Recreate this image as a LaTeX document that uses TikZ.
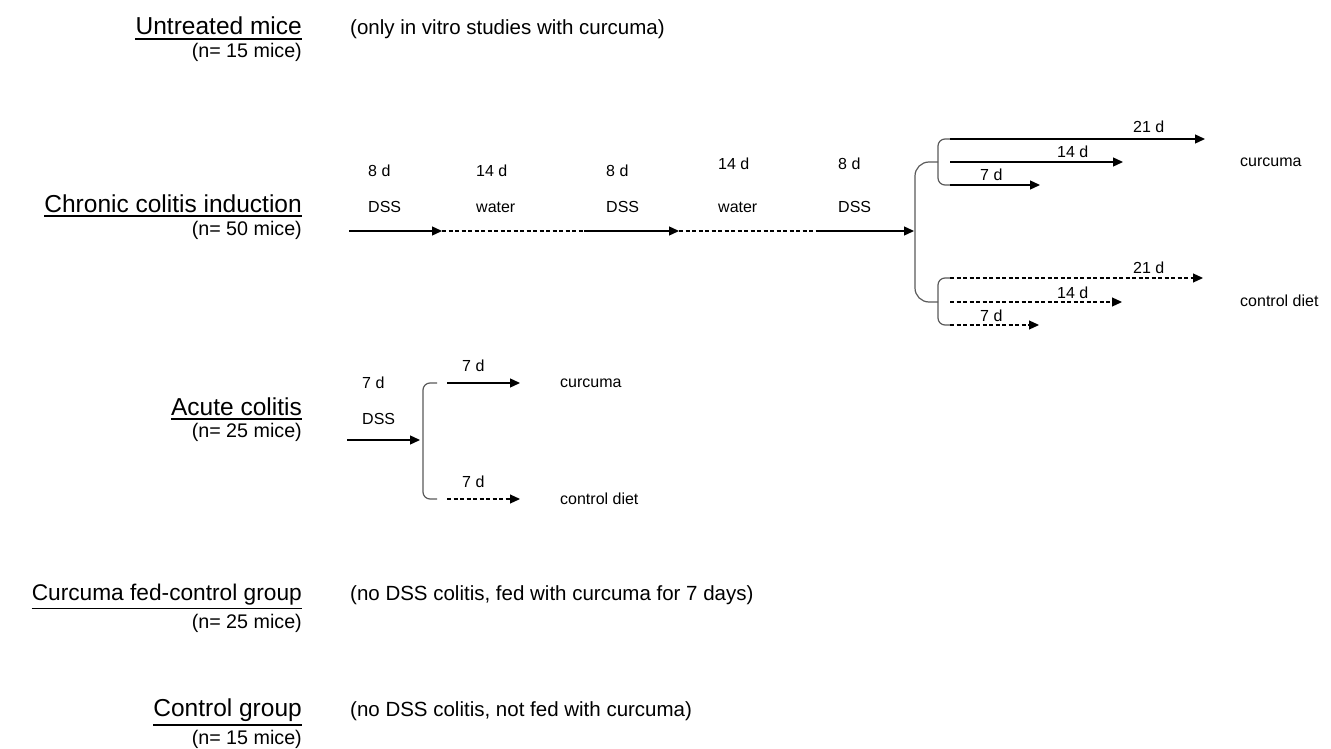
\documentclass[tikz,border=0pt]{standalone}
\usepackage{fontspec}
\setmainfont{Liberation Sans}
\usetikzlibrary{arrows.meta, positioning}

\begin{document}
\begin{tikzpicture}[
    x=1pt, y=-1pt,
    every node/.style={inner sep=0pt},
    title/.style={font=\fontsize{24.5}{28}\selectfont, anchor=base east},
    count/.style={font=\fontsize{19.7}{23}\selectfont, anchor=base east},
    note/.style={font=\fontsize{20.5}{24}\selectfont, anchor=base west},
    lbl/.style={font=\fontsize{16}{19}\selectfont, anchor=base west},
    uline/.style={line width=1.5pt},
    arrow/.style={-{Triangle[length=10pt, width=9pt]}, line width=1.3pt},
    dashline/.style={line width=1.1pt, dash pattern=on 4pt off 2.5pt},
    brace/.style={line width=1.2pt, draw=black!65, rounded corners=7pt}
]
\useasboundingbox (0,0) rectangle (1331,749);

% group titles
\node[title] (untreated) at (302,35) {Untreated mice};
\node[title] (chronic) at (302,212) {Chronic colitis induction};
\node[title] (acute) at (302,415) {Acute colitis};
\node[title, font=\fontsize{22.7}{26}\selectfont] (curfed) at (302,600) {Curcuma fed-control group};
\node[title] (ctlgrp) at (302,716) {Control group};

\foreach \g in {untreated, chronic, acute, curfed, ctlgrp}
  \draw[uline] ([yshift=-3.5pt]\g.south west) -- ([yshift=-3.5pt]\g.south east);

\node[count] (untreatedn) at (302,58) {(n= 15 mice)};
\node[count] (chronicn) at (302,235) {(n= 50 mice)};
\node[count] (acuten) at (302,437) {(n= 25 mice)};
\node[count] (curfedn) at (302,628) {(n= 25 mice)};
\node[count] (ctlgrpn) at (302,744) {(n= 15 mice)};

\node[note] (untreatednote) at (350,35) {(only in vitro studies with curcuma)};
\node[note] (curfednote) at (350,600) {(no DSS colitis, fed with curcuma for 7 days)};
\node[note] (ctlgrpnote) at (350,716) {(no DSS colitis, not fed with curcuma)};

% chronic induction
\coordinate (c0) at (349,231);
\coordinate (c1) at (442,231);
\coordinate (c2) at (584,231);
\coordinate (c3) at (679,231);
\coordinate (c4) at (820,231);
\coordinate (c5) at (914,231);
\draw[arrow] (c0) -- (c1);
\draw[dashline] (c1) -- (c2);
\draw[arrow] (c2) -- (c3);
\draw[dashline] (c3) -- (c4);
\draw[arrow] (c4) -- (c5);

\node[lbl] (t1) at (368,176) {8 d};
\node[lbl] (t2) at (476,176) {14 d};
\node[lbl] (t3) at (606,176) {8 d};
\node[lbl] (t4) at (718,170) {14 d};
\node[lbl] (t5) at (838,170) {8 d};
\node[lbl] (p1) at (368,212) {DSS};
\node[lbl] (p2) at (476,212) {water};
\node[lbl] (p3) at (606,212) {DSS};
\node[lbl] (p4) at (718,212) {water};
\node[lbl] (p5) at (838,212) {DSS};

% chronic branches
\coordinate (cur21s) at (950,139); \coordinate (cur21e) at (1205,139);
\coordinate (cur14s) at (950,162); \coordinate (cur14e) at (1123,162);
\coordinate (cur7s) at (950,185);  \coordinate (cur7e) at (1040,185);
\coordinate (ctl21s) at (950,278); \coordinate (ctl21e) at (1203,278);
\coordinate (ctl14s) at (950,302); \coordinate (ctl14e) at (1122,302);
\coordinate (ctl7s) at (950,325);  \coordinate (ctl7e) at (1039,325);

\draw[brace] (cur21s) -- ++(-12,0) -- ([xshift=-12pt]cur7s) -- (cur7s);
\draw[brace] (ctl21s) -- ++(-12,0) -- ([xshift=-12pt]ctl7s) -- (ctl7s);
\draw[brace, rounded corners=14pt] ([xshift=-12pt]cur14s) -- ++(-23,0) |- ([xshift=-12pt]ctl14s);

\draw[arrow] (cur21s) -- (cur21e);
\draw[arrow] (cur14s) -- (cur14e);
\draw[arrow] (cur7s) -- (cur7e);
\draw[arrow, dashline] (ctl21s) -- (ctl21e);
\draw[arrow, dashline] (ctl14s) -- (ctl14e);
\draw[arrow, dashline] (ctl7s) -- (ctl7e);

\node[lbl] (cur21) at (1133,133) {21 d};
\node[lbl] (cur14) at (1057,158) {14 d};
\node[lbl] (cur7) at (980,181) {7 d};
\node[lbl] (ctl21) at (1133,273) {21 d};
\node[lbl] (ctl14) at (1057,298) {14 d};
\node[lbl] (ctl7) at (980,321) {7 d};
\node[lbl] (curcuma) at (1240,167) {curcuma};
\node[lbl] (ctldiet) at (1240,306) {control diet};

% acute colitis
\coordinate (a0) at (347,440);
\coordinate (a1) at (420,440);
\draw[arrow] (a0) -- (a1);
\node[lbl] (at1) at (362,388) {7 d};
\node[lbl] (ap1) at (362,424) {DSS};

\coordinate (acurs) at (447,383); \coordinate (acure) at (520,383);
\coordinate (actls) at (447,499); \coordinate (actle) at (520,499);
\draw[brace] ([xshift=-10pt]acurs) -- ++(-14,0) |- ([xshift=-10pt]actls);
\draw[arrow] (acurs) -- (acure);
\draw[arrow, dashline] (actls) -- (actle);

\node[lbl] (acur7) at (462,371) {7 d};
\node[lbl] (actl7) at (462,487) {7 d};
\node[lbl] (acurcuma) at (560,387) {curcuma};
\node[lbl] (actldiet) at (560,504) {control diet};

\end{tikzpicture}
\end{document}
